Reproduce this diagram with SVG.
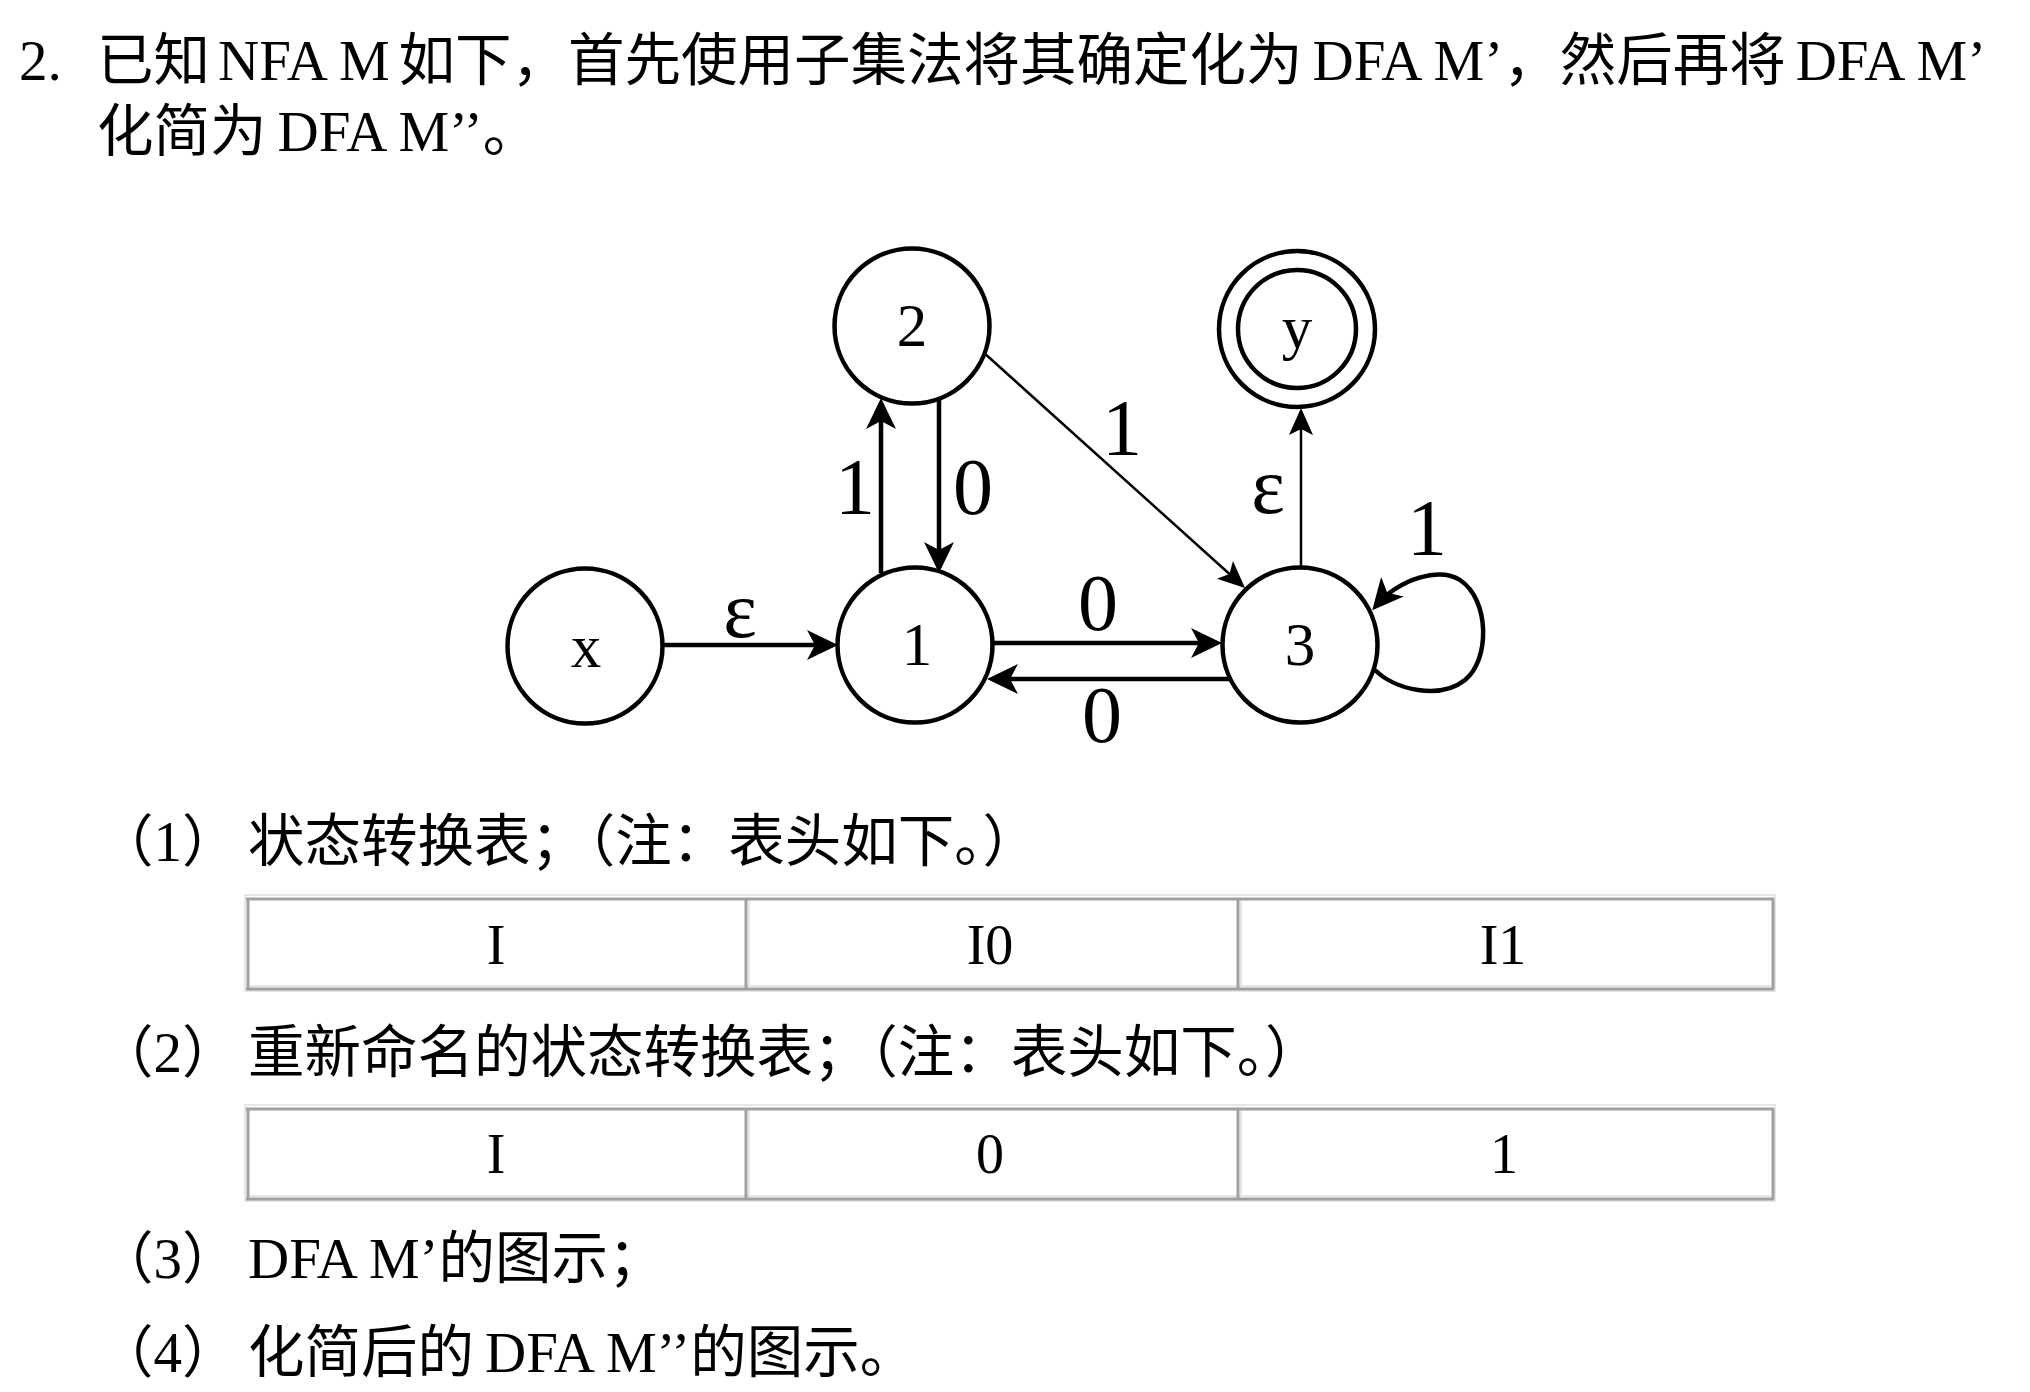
<svg xmlns="http://www.w3.org/2000/svg" width="2030" height="1392" viewBox="0 0 2030 1392">
<style>
.t{font-family:"Liberation Serif","Noto Sans CJK SC",serif;font-size:56.5px;fill:#000}
.l{font-size:57px}
.nl{font-family:"Liberation Serif",serif;font-size:61px;fill:#000;text-anchor:middle}
.el{font-family:"Liberation Serif",serif;font-size:80px;fill:#000;text-anchor:middle}
.tc{font-family:"Liberation Serif",serif;font-size:56px;fill:#000;text-anchor:middle}
.node{fill:#fff;stroke:#000;stroke-width:4.5}
.thick{fill:none;stroke:#000;stroke-width:4.5;marker-end:url(#ah)}
.thin{fill:none;stroke:#000;stroke-width:2.5;marker-end:url(#ahs)}
.dk{stroke:#a0a0a0;stroke-width:3;fill:none}
.lt{stroke:#e6e6e6;stroke-width:2;fill:none}
</style>
<defs>
<marker id="ah" markerUnits="userSpaceOnUse" markerWidth="40" markerHeight="40" viewBox="-2 -20 40 40" refX="26" refY="0" orient="auto">
<path d="M0,-15 L31,0 L0,15 L8,0 Z" fill="#000"/>
</marker>
<marker id="ahs" markerUnits="userSpaceOnUse" markerWidth="40" markerHeight="40" viewBox="-2 -20 40 40" refX="24" refY="0" orient="auto">
<path d="M0,-12 L27,0 L0,12 L6,0 Z" fill="#000"/>
</marker>
</defs>
<rect width="2030" height="1392" fill="#fff"/>

<g id="title">
<text class="t" x="19" y="80"><tspan class="l">2.</tspan></text>
<text class="t" x="97" y="80">已知<tspan class="l" dx="8">NFA M</tspan><tspan dx="9">如下，首先使用子集法将其确定化为</tspan><tspan class="l" dx="10">DFA M’</tspan>，然后再将<tspan class="l" dx="10">DFA M’</tspan></text>
<text class="t" x="97" y="151">化简为<tspan class="l" dx="11">DFA M’’</tspan>。</text>
</g>

<g id="connectors">
<line class="thick" x1="663" y1="645" x2="833" y2="645"/>
<line class="thick" x1="881" y1="573" x2="881" y2="403"/>
<line class="thick" x1="939" y1="396" x2="939" y2="568"/>
<line class="thick" x1="993" y1="643" x2="1217" y2="643"/>
<line class="thick" x1="1230" y1="679" x2="992" y2="679"/>
<line class="thin" x1="983" y1="352" x2="1242.8" y2="586"/>
<line class="thin" x1="1301" y1="566" x2="1301" y2="411"/>
<path class="thick" d="M1375,670 C1395,690 1440,700 1465,680 C1490,660 1490,600 1460,580 C1440,567 1400,578 1375.5,606.4"/>
<text class="el" x="740" y="637">ε</text>
<text class="el" x="855" y="514">1</text>
<text class="el" x="973" y="514">0</text>
<text class="el" x="1122" y="455">1</text>
<text class="el" x="1268" y="513">ε</text>
<text class="el" x="1427" y="555">1</text>
<text class="el" x="1098" y="630">0</text>
<text class="el" x="1102" y="742">0</text>
</g>

<g id="node-x">
<circle class="node" cx="585" cy="646" r="77.5"/>
<text class="nl" x="586" y="667">x</text>
</g>
<g id="node-1">
<circle class="node" cx="915" cy="645" r="77.5"/>
<text class="nl" x="917" y="665">1</text>
</g>
<g id="node-2">
<circle class="node" cx="912" cy="326" r="77.5"/>
<text class="nl" x="912" y="346">2</text>
</g>
<g id="node-3">
<circle class="node" cx="1300" cy="645" r="77.5"/>
<text class="nl" x="1300" y="665">3</text>
</g>
<g id="node-y">
<circle class="node" cx="1297" cy="329" r="78"/>
<circle class="node" cx="1297" cy="329" r="59"/>
<text class="nl" x="1297" y="348">y</text>
</g>

<g id="item1">
<text class="t" x="97" y="861">（<tspan class="l">1</tspan>）<tspan x="248">状态转换表；（注：表头如下。）</tspan></text>
</g>

<g id="table1">
<rect class="lt" x="245" y="895" width="1530" height="96"/>
<line class="dk" x1="246" y1="899" x2="1774" y2="899"/>
<line class="dk" x1="246" y1="989" x2="1774" y2="989"/>
<line class="dk" x1="248" y1="899" x2="248" y2="989"/>
<line class="dk" x1="1773" y1="899" x2="1773" y2="989"/>
<line class="lt" x1="250" y1="986" x2="1771" y2="986"/>
<line class="dk" x1="746" y1="899" x2="746" y2="989"/>
<line class="lt" x1="749" y1="901" x2="749" y2="986"/>
<line class="dk" x1="1238" y1="899" x2="1238" y2="989"/>
<line class="lt" x1="1241" y1="901" x2="1241" y2="986"/>
<text class="tc" x="496" y="964">I</text>
<text class="tc" x="990" y="964">I0</text>
<text class="tc" x="1503" y="964">I1</text>
</g>

<g id="item2">
<text class="t" x="97" y="1072">（<tspan class="l">2</tspan>）<tspan x="248">重新命名的状态转换表；（注：表头如下。）</tspan></text>
</g>

<g id="table2">
<rect class="lt" x="245" y="1105" width="1530" height="96"/>
<line class="dk" x1="246" y1="1109" x2="1774" y2="1109"/>
<line class="dk" x1="246" y1="1199" x2="1774" y2="1199"/>
<line class="dk" x1="248" y1="1109" x2="248" y2="1199"/>
<line class="dk" x1="1773" y1="1109" x2="1773" y2="1199"/>
<line class="lt" x1="250" y1="1196" x2="1771" y2="1196"/>
<line class="dk" x1="746" y1="1109" x2="746" y2="1199"/>
<line class="lt" x1="749" y1="1111" x2="749" y2="1196"/>
<line class="dk" x1="1238" y1="1109" x2="1238" y2="1199"/>
<line class="lt" x1="1241" y1="1111" x2="1241" y2="1196"/>
<text class="tc" x="496" y="1173">I</text>
<text class="tc" x="990" y="1173">0</text>
<text class="tc" x="1504" y="1173">1</text>
</g>

<g id="item3">
<text class="t" x="97" y="1278">（<tspan class="l">3</tspan>）<tspan x="248" class="l">DFA M’</tspan>的图示；</text>
</g>
<g id="item4">
<text class="t" x="97" y="1372">（<tspan class="l">4</tspan>）<tspan x="248">化简后的</tspan><tspan class="l" dx="11">DFA M’’</tspan>的图示。</text>
</g>
</svg>
